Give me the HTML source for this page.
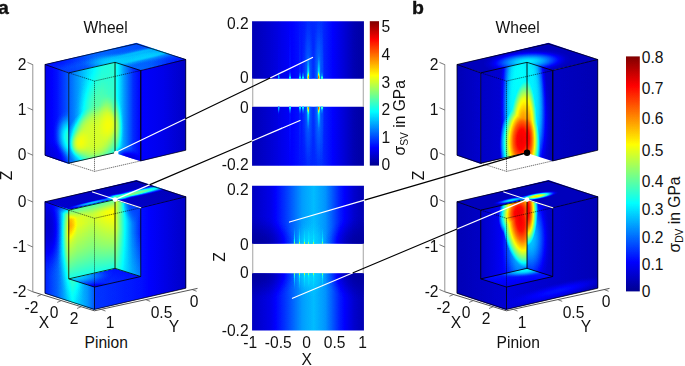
<!DOCTYPE html>
<html lang="en"><head><meta charset="utf-8"><title>Figure</title>
<style>html,body{margin:0;padding:0;background:#fff}svg{display:block}text{font-family:"Liberation Sans",Arial,Helvetica,sans-serif;fill:#111}</style>
</head><body>
<svg width="685" height="366" viewBox="0 0 685 366">
<defs>
<filter id="jet" filterUnits="userSpaceOnUse" x="0" y="0" width="685" height="366" color-interpolation-filters="sRGB">
<feComponentTransfer>
<feFuncR type="table" tableValues="0 0 0 0 0 0 0 .25 .5 .75 1 1 1 1 1 .75 .5"/>
<feFuncG type="table" tableValues="0 0 0 .25 .5 .75 1 1 1 1 1 .75 .5 .25 0 0 0"/>
<feFuncB type="table" tableValues=".5625 .78 1 1 1 1 1 .75 .5 .25 0 0 0 0 0 0 0"/>
</feComponentTransfer></filter>
<clipPath id="u"><rect x="-0.004" y="-0.004" width="1.008" height="1.008"/></clipPath>
<linearGradient id="l1" x1="0" y1="0" x2="1" y2="0"><stop offset="0" stop-color="#2e2e2e"/><stop offset="0.45" stop-color="#3b3b3b"/><stop offset="1" stop-color="#333333"/></linearGradient><radialGradient id="r2"><stop offset="0" stop-color="#525252" stop-opacity="1"/><stop offset="0.125" stop-color="#525252" stop-opacity="0.969"/><stop offset="0.25" stop-color="#525252" stop-opacity="0.879"/><stop offset="0.375" stop-color="#525252" stop-opacity="0.739"/><stop offset="0.5" stop-color="#525252" stop-opacity="0.562"/><stop offset="0.625" stop-color="#525252" stop-opacity="0.371"/><stop offset="0.75" stop-color="#525252" stop-opacity="0.191"/><stop offset="0.875" stop-color="#525252" stop-opacity="0.055"/><stop offset="1" stop-color="#525252" stop-opacity="0"/></radialGradient><radialGradient id="r3"><stop offset="0" stop-color="#545454" stop-opacity="1"/><stop offset="0.125" stop-color="#545454" stop-opacity="0.969"/><stop offset="0.25" stop-color="#545454" stop-opacity="0.879"/><stop offset="0.375" stop-color="#545454" stop-opacity="0.739"/><stop offset="0.5" stop-color="#545454" stop-opacity="0.562"/><stop offset="0.625" stop-color="#545454" stop-opacity="0.371"/><stop offset="0.75" stop-color="#545454" stop-opacity="0.191"/><stop offset="0.875" stop-color="#545454" stop-opacity="0.055"/><stop offset="1" stop-color="#545454" stop-opacity="0"/></radialGradient><radialGradient id="r4"><stop offset="0" stop-color="#4f4f4f" stop-opacity="1"/><stop offset="0.125" stop-color="#4f4f4f" stop-opacity="0.969"/><stop offset="0.25" stop-color="#4f4f4f" stop-opacity="0.879"/><stop offset="0.375" stop-color="#4f4f4f" stop-opacity="0.739"/><stop offset="0.5" stop-color="#4f4f4f" stop-opacity="0.562"/><stop offset="0.625" stop-color="#4f4f4f" stop-opacity="0.371"/><stop offset="0.75" stop-color="#4f4f4f" stop-opacity="0.191"/><stop offset="0.875" stop-color="#4f4f4f" stop-opacity="0.055"/><stop offset="1" stop-color="#4f4f4f" stop-opacity="0"/></radialGradient><radialGradient id="r5"><stop offset="0" stop-color="#242424" stop-opacity="1"/><stop offset="0.125" stop-color="#242424" stop-opacity="0.969"/><stop offset="0.25" stop-color="#242424" stop-opacity="0.879"/><stop offset="0.375" stop-color="#242424" stop-opacity="0.739"/><stop offset="0.5" stop-color="#242424" stop-opacity="0.562"/><stop offset="0.625" stop-color="#242424" stop-opacity="0.371"/><stop offset="0.75" stop-color="#242424" stop-opacity="0.191"/><stop offset="0.875" stop-color="#242424" stop-opacity="0.055"/><stop offset="1" stop-color="#242424" stop-opacity="0"/></radialGradient><radialGradient id="r6"><stop offset="0" stop-color="#262626" stop-opacity="1"/><stop offset="0.125" stop-color="#262626" stop-opacity="0.969"/><stop offset="0.25" stop-color="#262626" stop-opacity="0.879"/><stop offset="0.375" stop-color="#262626" stop-opacity="0.739"/><stop offset="0.5" stop-color="#262626" stop-opacity="0.562"/><stop offset="0.625" stop-color="#262626" stop-opacity="0.371"/><stop offset="0.75" stop-color="#262626" stop-opacity="0.191"/><stop offset="0.875" stop-color="#262626" stop-opacity="0.055"/><stop offset="1" stop-color="#262626" stop-opacity="0"/></radialGradient><linearGradient id="l7" x1="0" y1="0" x2="1" y2="0"><stop offset="0" stop-color="#1a1a1a"/><stop offset="0.5" stop-color="#242424"/><stop offset="1" stop-color="#383838"/></linearGradient><radialGradient id="r8"><stop offset="0" stop-color="#707070" stop-opacity="1"/><stop offset="0.125" stop-color="#707070" stop-opacity="0.969"/><stop offset="0.25" stop-color="#707070" stop-opacity="0.879"/><stop offset="0.375" stop-color="#707070" stop-opacity="0.739"/><stop offset="0.5" stop-color="#707070" stop-opacity="0.562"/><stop offset="0.625" stop-color="#707070" stop-opacity="0.371"/><stop offset="0.75" stop-color="#707070" stop-opacity="0.191"/><stop offset="0.875" stop-color="#707070" stop-opacity="0.055"/><stop offset="1" stop-color="#707070" stop-opacity="0"/></radialGradient><radialGradient id="r9"><stop offset="0" stop-color="#171717" stop-opacity="1"/><stop offset="0.125" stop-color="#171717" stop-opacity="0.969"/><stop offset="0.25" stop-color="#171717" stop-opacity="0.879"/><stop offset="0.375" stop-color="#171717" stop-opacity="0.739"/><stop offset="0.5" stop-color="#171717" stop-opacity="0.562"/><stop offset="0.625" stop-color="#171717" stop-opacity="0.371"/><stop offset="0.75" stop-color="#171717" stop-opacity="0.191"/><stop offset="0.875" stop-color="#171717" stop-opacity="0.055"/><stop offset="1" stop-color="#171717" stop-opacity="0"/></radialGradient><linearGradient id="l10" x1="0" y1="0" x2="1" y2="0"><stop offset="0" stop-color="#363636"/><stop offset="0.35" stop-color="#525252"/><stop offset="0.7" stop-color="#666666"/><stop offset="1" stop-color="#6b6b6b"/></linearGradient><radialGradient id="r11"><stop offset="0" stop-color="#787878" stop-opacity="1"/><stop offset="0.125" stop-color="#787878" stop-opacity="0.969"/><stop offset="0.25" stop-color="#787878" stop-opacity="0.879"/><stop offset="0.375" stop-color="#787878" stop-opacity="0.739"/><stop offset="0.5" stop-color="#787878" stop-opacity="0.562"/><stop offset="0.625" stop-color="#787878" stop-opacity="0.371"/><stop offset="0.75" stop-color="#787878" stop-opacity="0.191"/><stop offset="0.875" stop-color="#787878" stop-opacity="0.055"/><stop offset="1" stop-color="#787878" stop-opacity="0"/></radialGradient><radialGradient id="r12"><stop offset="0" stop-color="#959595" stop-opacity="1"/><stop offset="0.125" stop-color="#959595" stop-opacity="1"/><stop offset="0.25" stop-color="#959595" stop-opacity="0.992"/><stop offset="0.375" stop-color="#959595" stop-opacity="0.961"/><stop offset="0.5" stop-color="#959595" stop-opacity="0.879"/><stop offset="0.625" stop-color="#959595" stop-opacity="0.718"/><stop offset="0.75" stop-color="#959595" stop-opacity="0.467"/><stop offset="0.875" stop-color="#959595" stop-opacity="0.171"/><stop offset="1" stop-color="#959595" stop-opacity="0"/></radialGradient><radialGradient id="r13"><stop offset="0" stop-color="#959595" stop-opacity="1"/><stop offset="0.125" stop-color="#959595" stop-opacity="0.969"/><stop offset="0.25" stop-color="#959595" stop-opacity="0.879"/><stop offset="0.375" stop-color="#959595" stop-opacity="0.739"/><stop offset="0.5" stop-color="#959595" stop-opacity="0.562"/><stop offset="0.625" stop-color="#959595" stop-opacity="0.371"/><stop offset="0.75" stop-color="#959595" stop-opacity="0.191"/><stop offset="0.875" stop-color="#959595" stop-opacity="0.055"/><stop offset="1" stop-color="#959595" stop-opacity="0"/></radialGradient><radialGradient id="r14"><stop offset="0" stop-color="#9d9d9d" stop-opacity="1"/><stop offset="0.125" stop-color="#9d9d9d" stop-opacity="0.969"/><stop offset="0.25" stop-color="#9d9d9d" stop-opacity="0.879"/><stop offset="0.375" stop-color="#9d9d9d" stop-opacity="0.739"/><stop offset="0.5" stop-color="#9d9d9d" stop-opacity="0.562"/><stop offset="0.625" stop-color="#9d9d9d" stop-opacity="0.371"/><stop offset="0.75" stop-color="#9d9d9d" stop-opacity="0.191"/><stop offset="0.875" stop-color="#9d9d9d" stop-opacity="0.055"/><stop offset="1" stop-color="#9d9d9d" stop-opacity="0"/></radialGradient><linearGradient id="l15" x1="0" y1="0" x2="1" y2="0"><stop offset="0" stop-color="#6b6b6b"/><stop offset="0.35" stop-color="#474747"/><stop offset="0.7" stop-color="#2b2b2b"/><stop offset="1" stop-color="#1f1f1f"/></linearGradient><radialGradient id="r16"><stop offset="0" stop-color="#939393" stop-opacity="1"/><stop offset="0.125" stop-color="#939393" stop-opacity="0.969"/><stop offset="0.25" stop-color="#939393" stop-opacity="0.879"/><stop offset="0.375" stop-color="#939393" stop-opacity="0.739"/><stop offset="0.5" stop-color="#939393" stop-opacity="0.562"/><stop offset="0.625" stop-color="#939393" stop-opacity="0.371"/><stop offset="0.75" stop-color="#939393" stop-opacity="0.191"/><stop offset="0.875" stop-color="#939393" stop-opacity="0.055"/><stop offset="1" stop-color="#939393" stop-opacity="0"/></radialGradient><radialGradient id="r17"><stop offset="0" stop-color="#121212" stop-opacity="1"/><stop offset="0.125" stop-color="#121212" stop-opacity="0.969"/><stop offset="0.25" stop-color="#121212" stop-opacity="0.879"/><stop offset="0.375" stop-color="#121212" stop-opacity="0.739"/><stop offset="0.5" stop-color="#121212" stop-opacity="0.562"/><stop offset="0.625" stop-color="#121212" stop-opacity="0.371"/><stop offset="0.75" stop-color="#121212" stop-opacity="0.191"/><stop offset="0.875" stop-color="#121212" stop-opacity="0.055"/><stop offset="1" stop-color="#121212" stop-opacity="0"/></radialGradient><linearGradient id="l18" x1="0" y1="0" x2="1" y2="0"><stop offset="0" stop-color="#202020"/><stop offset="0.5" stop-color="#1a1a1a"/><stop offset="1" stop-color="#0f0f0f"/></linearGradient><linearGradient id="l19" x1="0" y1="0" x2="1" y2="0"><stop offset="0" stop-color="#121212"/><stop offset="1" stop-color="#0d0d0d"/></linearGradient><radialGradient id="r20"><stop offset="0" stop-color="#808080" stop-opacity="1"/><stop offset="0.125" stop-color="#808080" stop-opacity="0.969"/><stop offset="0.25" stop-color="#808080" stop-opacity="0.879"/><stop offset="0.375" stop-color="#808080" stop-opacity="0.739"/><stop offset="0.5" stop-color="#808080" stop-opacity="0.562"/><stop offset="0.625" stop-color="#808080" stop-opacity="0.371"/><stop offset="0.75" stop-color="#808080" stop-opacity="0.191"/><stop offset="0.875" stop-color="#808080" stop-opacity="0.055"/><stop offset="1" stop-color="#808080" stop-opacity="0"/></radialGradient><radialGradient id="r21"><stop offset="0" stop-color="#737373" stop-opacity="1"/><stop offset="0.125" stop-color="#737373" stop-opacity="0.969"/><stop offset="0.25" stop-color="#737373" stop-opacity="0.879"/><stop offset="0.375" stop-color="#737373" stop-opacity="0.739"/><stop offset="0.5" stop-color="#737373" stop-opacity="0.562"/><stop offset="0.625" stop-color="#737373" stop-opacity="0.371"/><stop offset="0.75" stop-color="#737373" stop-opacity="0.191"/><stop offset="0.875" stop-color="#737373" stop-opacity="0.055"/><stop offset="1" stop-color="#737373" stop-opacity="0"/></radialGradient><linearGradient id="l22" x1="0" y1="0" x2="1" y2="0"><stop offset="0" stop-color="#262626"/><stop offset="0.25" stop-color="#383838"/><stop offset="0.55" stop-color="#5c5c5c"/><stop offset="0.85" stop-color="#454545"/><stop offset="1" stop-color="#333333"/></linearGradient><radialGradient id="r23"><stop offset="0" stop-color="#9e9e9e" stop-opacity="1"/><stop offset="0.125" stop-color="#9e9e9e" stop-opacity="0.969"/><stop offset="0.25" stop-color="#9e9e9e" stop-opacity="0.879"/><stop offset="0.375" stop-color="#9e9e9e" stop-opacity="0.739"/><stop offset="0.5" stop-color="#9e9e9e" stop-opacity="0.562"/><stop offset="0.625" stop-color="#9e9e9e" stop-opacity="0.371"/><stop offset="0.75" stop-color="#9e9e9e" stop-opacity="0.191"/><stop offset="0.875" stop-color="#9e9e9e" stop-opacity="0.055"/><stop offset="1" stop-color="#9e9e9e" stop-opacity="0"/></radialGradient><radialGradient id="r24"><stop offset="0" stop-color="#b8b8b8" stop-opacity="1"/><stop offset="0.125" stop-color="#b8b8b8" stop-opacity="0.969"/><stop offset="0.25" stop-color="#b8b8b8" stop-opacity="0.879"/><stop offset="0.375" stop-color="#b8b8b8" stop-opacity="0.739"/><stop offset="0.5" stop-color="#b8b8b8" stop-opacity="0.562"/><stop offset="0.625" stop-color="#b8b8b8" stop-opacity="0.371"/><stop offset="0.75" stop-color="#b8b8b8" stop-opacity="0.191"/><stop offset="0.875" stop-color="#b8b8b8" stop-opacity="0.055"/><stop offset="1" stop-color="#b8b8b8" stop-opacity="0"/></radialGradient><radialGradient id="r25"><stop offset="0" stop-color="#131313" stop-opacity="1"/><stop offset="0.125" stop-color="#131313" stop-opacity="0.969"/><stop offset="0.25" stop-color="#131313" stop-opacity="0.879"/><stop offset="0.375" stop-color="#131313" stop-opacity="0.739"/><stop offset="0.5" stop-color="#131313" stop-opacity="0.562"/><stop offset="0.625" stop-color="#131313" stop-opacity="0.371"/><stop offset="0.75" stop-color="#131313" stop-opacity="0.191"/><stop offset="0.875" stop-color="#131313" stop-opacity="0.055"/><stop offset="1" stop-color="#131313" stop-opacity="0"/></radialGradient><linearGradient id="l26" x1="0" y1="0" x2="0" y2="1"><stop offset="0" stop-color="#1f1f1f" stop-opacity="0.7"/><stop offset="0.08" stop-color="#1f1f1f" stop-opacity="0"/></linearGradient><linearGradient id="l27" x1="0" y1="0" x2="1" y2="0"><stop offset="0" stop-color="#2e2e2e"/><stop offset="0.5" stop-color="#242424"/><stop offset="1" stop-color="#0f0f0f"/></linearGradient><linearGradient id="l28" x1="0" y1="0" x2="1" y2="0"><stop offset="0" stop-color="#2e2e2e"/><stop offset="1" stop-color="#242424"/></linearGradient><radialGradient id="r29"><stop offset="0" stop-color="#1a1a1a" stop-opacity="1"/><stop offset="0.125" stop-color="#1a1a1a" stop-opacity="0.969"/><stop offset="0.25" stop-color="#1a1a1a" stop-opacity="0.879"/><stop offset="0.375" stop-color="#1a1a1a" stop-opacity="0.739"/><stop offset="0.5" stop-color="#1a1a1a" stop-opacity="0.562"/><stop offset="0.625" stop-color="#1a1a1a" stop-opacity="0.371"/><stop offset="0.75" stop-color="#1a1a1a" stop-opacity="0.191"/><stop offset="0.875" stop-color="#1a1a1a" stop-opacity="0.055"/><stop offset="1" stop-color="#1a1a1a" stop-opacity="0"/></radialGradient><linearGradient id="l30" x1="0" y1="0" x2="1" y2="0"><stop offset="0" stop-color="#a8a8a8"/><stop offset="0.2" stop-color="#999999"/><stop offset="0.5" stop-color="#919191"/><stop offset="0.8" stop-color="#9c9c9c"/><stop offset="1" stop-color="#a1a1a1"/></linearGradient><radialGradient id="r31"><stop offset="0" stop-color="#b5b5b5" stop-opacity="1"/><stop offset="0.125" stop-color="#b5b5b5" stop-opacity="0.969"/><stop offset="0.25" stop-color="#b5b5b5" stop-opacity="0.879"/><stop offset="0.375" stop-color="#b5b5b5" stop-opacity="0.739"/><stop offset="0.5" stop-color="#b5b5b5" stop-opacity="0.562"/><stop offset="0.625" stop-color="#b5b5b5" stop-opacity="0.371"/><stop offset="0.75" stop-color="#b5b5b5" stop-opacity="0.191"/><stop offset="0.875" stop-color="#b5b5b5" stop-opacity="0.055"/><stop offset="1" stop-color="#b5b5b5" stop-opacity="0"/></radialGradient><linearGradient id="l32" x1="0" y1="0" x2="0" y2="1"><stop offset="0" stop-color="#707070" stop-opacity="0"/><stop offset="0.25" stop-color="#707070" stop-opacity="0"/><stop offset="0.6" stop-color="#707070" stop-opacity="0.5"/><stop offset="1" stop-color="#636363"/></linearGradient><linearGradient id="l33" x1="0" y1="0" x2="0" y2="1"><stop offset="0" stop-color="#6b6b6b" stop-opacity="0.9"/><stop offset="0.07" stop-color="#737373" stop-opacity="0.6"/><stop offset="0.16" stop-color="#808080" stop-opacity="0"/></linearGradient><linearGradient id="l34" x1="0" y1="0" x2="1" y2="0"><stop offset="0" stop-color="#9e9e9e"/><stop offset="0.15" stop-color="#858585"/><stop offset="0.38" stop-color="#616161"/><stop offset="0.65" stop-color="#424242"/><stop offset="1" stop-color="#262626"/></linearGradient><linearGradient id="l35" x1="0" y1="0" x2="0" y2="1"><stop offset="0" stop-color="#525252" stop-opacity="0"/><stop offset="0.4" stop-color="#525252" stop-opacity="0"/><stop offset="1" stop-color="#525252" stop-opacity="0.6"/></linearGradient><radialGradient id="r36"><stop offset="0" stop-color="#303030" stop-opacity="1"/><stop offset="0.125" stop-color="#303030" stop-opacity="0.969"/><stop offset="0.25" stop-color="#303030" stop-opacity="0.879"/><stop offset="0.375" stop-color="#303030" stop-opacity="0.739"/><stop offset="0.5" stop-color="#303030" stop-opacity="0.562"/><stop offset="0.625" stop-color="#303030" stop-opacity="0.371"/><stop offset="0.75" stop-color="#303030" stop-opacity="0.191"/><stop offset="0.875" stop-color="#303030" stop-opacity="0.055"/><stop offset="1" stop-color="#303030" stop-opacity="0"/></radialGradient><radialGradient id="r37"><stop offset="0" stop-color="#5c5c5c" stop-opacity="1"/><stop offset="0.125" stop-color="#5c5c5c" stop-opacity="0.969"/><stop offset="0.25" stop-color="#5c5c5c" stop-opacity="0.879"/><stop offset="0.375" stop-color="#5c5c5c" stop-opacity="0.739"/><stop offset="0.5" stop-color="#5c5c5c" stop-opacity="0.562"/><stop offset="0.625" stop-color="#5c5c5c" stop-opacity="0.371"/><stop offset="0.75" stop-color="#5c5c5c" stop-opacity="0.191"/><stop offset="0.875" stop-color="#5c5c5c" stop-opacity="0.055"/><stop offset="1" stop-color="#5c5c5c" stop-opacity="0"/></radialGradient><linearGradient id="l38" x1="0" y1="0" x2="1" y2="0"><stop offset="0" stop-color="#0b0b0b"/><stop offset="1" stop-color="#121212"/></linearGradient><linearGradient id="l39" x1="0" y1="0" x2="1" y2="0"><stop offset="0" stop-color="#0f0f0f"/><stop offset="0.5" stop-color="#141414"/><stop offset="1" stop-color="#1a1a1a"/></linearGradient><radialGradient id="r40"><stop offset="0" stop-color="#616161" stop-opacity="1"/><stop offset="0.125" stop-color="#616161" stop-opacity="1"/><stop offset="0.25" stop-color="#616161" stop-opacity="0.992"/><stop offset="0.375" stop-color="#616161" stop-opacity="0.961"/><stop offset="0.5" stop-color="#616161" stop-opacity="0.879"/><stop offset="0.625" stop-color="#616161" stop-opacity="0.718"/><stop offset="0.75" stop-color="#616161" stop-opacity="0.467"/><stop offset="0.875" stop-color="#616161" stop-opacity="0.171"/><stop offset="1" stop-color="#616161" stop-opacity="0"/></radialGradient><radialGradient id="r41"><stop offset="0" stop-color="#5e5e5e" stop-opacity="1"/><stop offset="0.125" stop-color="#5e5e5e" stop-opacity="0.969"/><stop offset="0.25" stop-color="#5e5e5e" stop-opacity="0.879"/><stop offset="0.375" stop-color="#5e5e5e" stop-opacity="0.739"/><stop offset="0.5" stop-color="#5e5e5e" stop-opacity="0.562"/><stop offset="0.625" stop-color="#5e5e5e" stop-opacity="0.371"/><stop offset="0.75" stop-color="#5e5e5e" stop-opacity="0.191"/><stop offset="0.875" stop-color="#5e5e5e" stop-opacity="0.055"/><stop offset="1" stop-color="#5e5e5e" stop-opacity="0"/></radialGradient><radialGradient id="q42"><stop offset="0" stop-color="#e3e3e3"/><stop offset="0.2" stop-color="#dedede"/><stop offset="0.36" stop-color="#c7c7c7"/><stop offset="0.52" stop-color="#a3a3a3"/><stop offset="0.68" stop-color="#757575"/><stop offset="0.84" stop-color="#424242"/><stop offset="1" stop-color="#000000"/></radialGradient><radialGradient id="q43"><stop offset="0" stop-color="#c7c7c7"/><stop offset="0.25" stop-color="#b2b2b2"/><stop offset="0.47" stop-color="#999999"/><stop offset="0.65" stop-color="#707070"/><stop offset="0.82" stop-color="#474747"/><stop offset="1" stop-color="#000000"/></radialGradient><linearGradient id="l44" x1="0" y1="0" x2="1" y2="0"><stop offset="0" stop-color="#1a1a1a"/><stop offset="1" stop-color="#0d0d0d"/></linearGradient><radialGradient id="r45"><stop offset="0" stop-color="#5e5e5e" stop-opacity="1"/><stop offset="0.125" stop-color="#5e5e5e" stop-opacity="1"/><stop offset="0.25" stop-color="#5e5e5e" stop-opacity="0.992"/><stop offset="0.375" stop-color="#5e5e5e" stop-opacity="0.961"/><stop offset="0.5" stop-color="#5e5e5e" stop-opacity="0.879"/><stop offset="0.625" stop-color="#5e5e5e" stop-opacity="0.718"/><stop offset="0.75" stop-color="#5e5e5e" stop-opacity="0.467"/><stop offset="0.875" stop-color="#5e5e5e" stop-opacity="0.171"/><stop offset="1" stop-color="#5e5e5e" stop-opacity="0"/></radialGradient><linearGradient id="l46" x1="0" y1="0" x2="1" y2="0"><stop offset="0" stop-color="#0f0f0f"/><stop offset="1" stop-color="#0a0a0a"/></linearGradient><radialGradient id="r47"><stop offset="0" stop-color="#a8a8a8" stop-opacity="1"/><stop offset="0.125" stop-color="#a8a8a8" stop-opacity="0.969"/><stop offset="0.25" stop-color="#a8a8a8" stop-opacity="0.879"/><stop offset="0.375" stop-color="#a8a8a8" stop-opacity="0.739"/><stop offset="0.5" stop-color="#a8a8a8" stop-opacity="0.562"/><stop offset="0.625" stop-color="#a8a8a8" stop-opacity="0.371"/><stop offset="0.75" stop-color="#a8a8a8" stop-opacity="0.191"/><stop offset="0.875" stop-color="#a8a8a8" stop-opacity="0.055"/><stop offset="1" stop-color="#a8a8a8" stop-opacity="0"/></radialGradient><linearGradient id="l48" x1="0" y1="0" x2="1" y2="0"><stop offset="0" stop-color="#0b0b0b"/><stop offset="1" stop-color="#141414"/></linearGradient><linearGradient id="l49" x1="0" y1="0" x2="1" y2="0"><stop offset="0" stop-color="#171717"/><stop offset="1" stop-color="#0b0b0b"/></linearGradient><linearGradient id="l50" x1="0" y1="0" x2="1" y2="1"><stop offset="0" stop-color="#1a1a1a"/><stop offset="1" stop-color="#2b2b2b"/></linearGradient><linearGradient id="l51" x1="0" y1="0" x2="1" y2="0"><stop offset="0" stop-color="#0f0f0f"/><stop offset="0.5" stop-color="#1f1f1f"/><stop offset="1" stop-color="#242424"/></linearGradient><radialGradient id="q52"><stop offset="0" stop-color="#e3e3e3"/><stop offset="0.22" stop-color="#dbdbdb"/><stop offset="0.4" stop-color="#c2c2c2"/><stop offset="0.58" stop-color="#a1a1a1"/><stop offset="0.76" stop-color="#757575"/><stop offset="0.9" stop-color="#474747"/><stop offset="1" stop-color="#000000"/></radialGradient><linearGradient id="l53" x1="0" y1="0" x2="1" y2="0"><stop offset="0" stop-color="#212121"/><stop offset="1" stop-color="#0f0f0f"/></linearGradient><linearGradient id="l54" x1="0" y1="0" x2="1" y2="0"><stop offset="0" stop-color="#0a0a0a"/><stop offset="0.15" stop-color="#121212"/><stop offset="0.35" stop-color="#1f1f1f"/><stop offset="0.5" stop-color="#292929"/><stop offset="0.62" stop-color="#2b2b2b"/><stop offset="0.75" stop-color="#1c1c1c"/><stop offset="0.9" stop-color="#0a0a0a"/><stop offset="1" stop-color="#040404"/></linearGradient><radialGradient id="r55"><stop offset="0" stop-color="#292929" stop-opacity="1"/><stop offset="0.125" stop-color="#292929" stop-opacity="0.969"/><stop offset="0.25" stop-color="#292929" stop-opacity="0.879"/><stop offset="0.375" stop-color="#292929" stop-opacity="0.739"/><stop offset="0.5" stop-color="#292929" stop-opacity="0.562"/><stop offset="0.625" stop-color="#292929" stop-opacity="0.371"/><stop offset="0.75" stop-color="#292929" stop-opacity="0.191"/><stop offset="0.875" stop-color="#292929" stop-opacity="0.055"/><stop offset="1" stop-color="#292929" stop-opacity="0"/></radialGradient><radialGradient id="r56"><stop offset="0" stop-color="#383838" stop-opacity="1"/><stop offset="0.125" stop-color="#383838" stop-opacity="0.969"/><stop offset="0.25" stop-color="#383838" stop-opacity="0.879"/><stop offset="0.375" stop-color="#383838" stop-opacity="0.739"/><stop offset="0.5" stop-color="#383838" stop-opacity="0.562"/><stop offset="0.625" stop-color="#383838" stop-opacity="0.371"/><stop offset="0.75" stop-color="#383838" stop-opacity="0.191"/><stop offset="0.875" stop-color="#383838" stop-opacity="0.055"/><stop offset="1" stop-color="#383838" stop-opacity="0"/></radialGradient><radialGradient id="r57"><stop offset="0" stop-color="#3c3c3c" stop-opacity="1"/><stop offset="0.125" stop-color="#3c3c3c" stop-opacity="0.969"/><stop offset="0.25" stop-color="#3c3c3c" stop-opacity="0.879"/><stop offset="0.375" stop-color="#3c3c3c" stop-opacity="0.739"/><stop offset="0.5" stop-color="#3c3c3c" stop-opacity="0.562"/><stop offset="0.625" stop-color="#3c3c3c" stop-opacity="0.371"/><stop offset="0.75" stop-color="#3c3c3c" stop-opacity="0.191"/><stop offset="0.875" stop-color="#3c3c3c" stop-opacity="0.055"/><stop offset="1" stop-color="#3c3c3c" stop-opacity="0"/></radialGradient><radialGradient id="r58"><stop offset="0" stop-color="#333333" stop-opacity="1"/><stop offset="0.125" stop-color="#333333" stop-opacity="0.969"/><stop offset="0.25" stop-color="#333333" stop-opacity="0.879"/><stop offset="0.375" stop-color="#333333" stop-opacity="0.739"/><stop offset="0.5" stop-color="#333333" stop-opacity="0.562"/><stop offset="0.625" stop-color="#333333" stop-opacity="0.371"/><stop offset="0.75" stop-color="#333333" stop-opacity="0.191"/><stop offset="0.875" stop-color="#333333" stop-opacity="0.055"/><stop offset="1" stop-color="#333333" stop-opacity="0"/></radialGradient><radialGradient id="r59"><stop offset="0" stop-color="#4c4c4c" stop-opacity="1"/><stop offset="0.125" stop-color="#4c4c4c" stop-opacity="0.969"/><stop offset="0.25" stop-color="#4c4c4c" stop-opacity="0.879"/><stop offset="0.375" stop-color="#4c4c4c" stop-opacity="0.739"/><stop offset="0.5" stop-color="#4c4c4c" stop-opacity="0.562"/><stop offset="0.625" stop-color="#4c4c4c" stop-opacity="0.371"/><stop offset="0.75" stop-color="#4c4c4c" stop-opacity="0.191"/><stop offset="0.875" stop-color="#4c4c4c" stop-opacity="0.055"/><stop offset="1" stop-color="#4c4c4c" stop-opacity="0"/></radialGradient><radialGradient id="r60"><stop offset="0" stop-color="#6b6b6b" stop-opacity="1"/><stop offset="0.125" stop-color="#6b6b6b" stop-opacity="0.969"/><stop offset="0.25" stop-color="#6b6b6b" stop-opacity="0.879"/><stop offset="0.375" stop-color="#6b6b6b" stop-opacity="0.739"/><stop offset="0.5" stop-color="#6b6b6b" stop-opacity="0.562"/><stop offset="0.625" stop-color="#6b6b6b" stop-opacity="0.371"/><stop offset="0.75" stop-color="#6b6b6b" stop-opacity="0.191"/><stop offset="0.875" stop-color="#6b6b6b" stop-opacity="0.055"/><stop offset="1" stop-color="#6b6b6b" stop-opacity="0"/></radialGradient><radialGradient id="r61"><stop offset="0" stop-color="#c7c7c7" stop-opacity="1"/><stop offset="0.125" stop-color="#c7c7c7" stop-opacity="0.969"/><stop offset="0.25" stop-color="#c7c7c7" stop-opacity="0.879"/><stop offset="0.375" stop-color="#c7c7c7" stop-opacity="0.739"/><stop offset="0.5" stop-color="#c7c7c7" stop-opacity="0.562"/><stop offset="0.625" stop-color="#c7c7c7" stop-opacity="0.371"/><stop offset="0.75" stop-color="#c7c7c7" stop-opacity="0.191"/><stop offset="0.875" stop-color="#c7c7c7" stop-opacity="0.055"/><stop offset="1" stop-color="#c7c7c7" stop-opacity="0"/></radialGradient><radialGradient id="r62"><stop offset="0" stop-color="#dbdbdb" stop-opacity="1"/><stop offset="0.125" stop-color="#dbdbdb" stop-opacity="0.969"/><stop offset="0.25" stop-color="#dbdbdb" stop-opacity="0.879"/><stop offset="0.375" stop-color="#dbdbdb" stop-opacity="0.739"/><stop offset="0.5" stop-color="#dbdbdb" stop-opacity="0.562"/><stop offset="0.625" stop-color="#dbdbdb" stop-opacity="0.371"/><stop offset="0.75" stop-color="#dbdbdb" stop-opacity="0.191"/><stop offset="0.875" stop-color="#dbdbdb" stop-opacity="0.055"/><stop offset="1" stop-color="#dbdbdb" stop-opacity="0"/></radialGradient><radialGradient id="r63"><stop offset="0" stop-color="#8c8c8c" stop-opacity="1"/><stop offset="0.125" stop-color="#8c8c8c" stop-opacity="0.969"/><stop offset="0.25" stop-color="#8c8c8c" stop-opacity="0.879"/><stop offset="0.375" stop-color="#8c8c8c" stop-opacity="0.739"/><stop offset="0.5" stop-color="#8c8c8c" stop-opacity="0.562"/><stop offset="0.625" stop-color="#8c8c8c" stop-opacity="0.371"/><stop offset="0.75" stop-color="#8c8c8c" stop-opacity="0.191"/><stop offset="0.875" stop-color="#8c8c8c" stop-opacity="0.055"/><stop offset="1" stop-color="#8c8c8c" stop-opacity="0"/></radialGradient><linearGradient id="l64" x1="0" y1="0" x2="1" y2="0"><stop offset="0" stop-color="#0d0d0d"/><stop offset="0.18" stop-color="#1a1a1a"/><stop offset="0.32" stop-color="#303030"/><stop offset="0.45" stop-color="#474747"/><stop offset="0.55" stop-color="#4f4f4f"/><stop offset="0.65" stop-color="#454545"/><stop offset="0.78" stop-color="#262626"/><stop offset="0.9" stop-color="#121212"/><stop offset="1" stop-color="#080808"/></linearGradient><radialGradient id="r65"><stop offset="0" stop-color="#050505" stop-opacity="1"/><stop offset="0.125" stop-color="#050505" stop-opacity="0.969"/><stop offset="0.25" stop-color="#050505" stop-opacity="0.879"/><stop offset="0.375" stop-color="#050505" stop-opacity="0.739"/><stop offset="0.5" stop-color="#050505" stop-opacity="0.562"/><stop offset="0.625" stop-color="#050505" stop-opacity="0.371"/><stop offset="0.75" stop-color="#050505" stop-opacity="0.191"/><stop offset="0.875" stop-color="#050505" stop-opacity="0.055"/><stop offset="1" stop-color="#050505" stop-opacity="0"/></radialGradient><radialGradient id="r66"><stop offset="0" stop-color="#595959" stop-opacity="1"/><stop offset="0.125" stop-color="#595959" stop-opacity="0.969"/><stop offset="0.25" stop-color="#595959" stop-opacity="0.879"/><stop offset="0.375" stop-color="#595959" stop-opacity="0.739"/><stop offset="0.5" stop-color="#595959" stop-opacity="0.562"/><stop offset="0.625" stop-color="#595959" stop-opacity="0.371"/><stop offset="0.75" stop-color="#595959" stop-opacity="0.191"/><stop offset="0.875" stop-color="#595959" stop-opacity="0.055"/><stop offset="1" stop-color="#595959" stop-opacity="0"/></radialGradient><radialGradient id="r67"><stop offset="0" stop-color="#666666" stop-opacity="1"/><stop offset="0.125" stop-color="#666666" stop-opacity="0.969"/><stop offset="0.25" stop-color="#666666" stop-opacity="0.879"/><stop offset="0.375" stop-color="#666666" stop-opacity="0.739"/><stop offset="0.5" stop-color="#666666" stop-opacity="0.562"/><stop offset="0.625" stop-color="#666666" stop-opacity="0.371"/><stop offset="0.75" stop-color="#666666" stop-opacity="0.191"/><stop offset="0.875" stop-color="#666666" stop-opacity="0.055"/><stop offset="1" stop-color="#666666" stop-opacity="0"/></radialGradient><radialGradient id="r68"><stop offset="0" stop-color="#878787" stop-opacity="1"/><stop offset="0.125" stop-color="#878787" stop-opacity="0.969"/><stop offset="0.25" stop-color="#878787" stop-opacity="0.879"/><stop offset="0.375" stop-color="#878787" stop-opacity="0.739"/><stop offset="0.5" stop-color="#878787" stop-opacity="0.562"/><stop offset="0.625" stop-color="#878787" stop-opacity="0.371"/><stop offset="0.75" stop-color="#878787" stop-opacity="0.191"/><stop offset="0.875" stop-color="#878787" stop-opacity="0.055"/><stop offset="1" stop-color="#878787" stop-opacity="0"/></radialGradient><radialGradient id="r69"><stop offset="0" stop-color="#949494" stop-opacity="1"/><stop offset="0.125" stop-color="#949494" stop-opacity="0.969"/><stop offset="0.25" stop-color="#949494" stop-opacity="0.879"/><stop offset="0.375" stop-color="#949494" stop-opacity="0.739"/><stop offset="0.5" stop-color="#949494" stop-opacity="0.562"/><stop offset="0.625" stop-color="#949494" stop-opacity="0.371"/><stop offset="0.75" stop-color="#949494" stop-opacity="0.191"/><stop offset="0.875" stop-color="#949494" stop-opacity="0.055"/><stop offset="1" stop-color="#949494" stop-opacity="0"/></radialGradient><radialGradient id="r70"><stop offset="0" stop-color="#a1a1a1" stop-opacity="1"/><stop offset="0.125" stop-color="#a1a1a1" stop-opacity="0.969"/><stop offset="0.25" stop-color="#a1a1a1" stop-opacity="0.879"/><stop offset="0.375" stop-color="#a1a1a1" stop-opacity="0.739"/><stop offset="0.5" stop-color="#a1a1a1" stop-opacity="0.562"/><stop offset="0.625" stop-color="#a1a1a1" stop-opacity="0.371"/><stop offset="0.75" stop-color="#a1a1a1" stop-opacity="0.191"/><stop offset="0.875" stop-color="#a1a1a1" stop-opacity="0.055"/><stop offset="1" stop-color="#a1a1a1" stop-opacity="0"/></radialGradient><radialGradient id="r71"><stop offset="0" stop-color="#b2b2b2" stop-opacity="1"/><stop offset="0.125" stop-color="#b2b2b2" stop-opacity="0.969"/><stop offset="0.25" stop-color="#b2b2b2" stop-opacity="0.879"/><stop offset="0.375" stop-color="#b2b2b2" stop-opacity="0.739"/><stop offset="0.5" stop-color="#b2b2b2" stop-opacity="0.562"/><stop offset="0.625" stop-color="#b2b2b2" stop-opacity="0.371"/><stop offset="0.75" stop-color="#b2b2b2" stop-opacity="0.191"/><stop offset="0.875" stop-color="#b2b2b2" stop-opacity="0.055"/><stop offset="1" stop-color="#b2b2b2" stop-opacity="0"/></radialGradient><radialGradient id="r72"><stop offset="0" stop-color="#bdbdbd" stop-opacity="1"/><stop offset="0.125" stop-color="#bdbdbd" stop-opacity="0.969"/><stop offset="0.25" stop-color="#bdbdbd" stop-opacity="0.879"/><stop offset="0.375" stop-color="#bdbdbd" stop-opacity="0.739"/><stop offset="0.5" stop-color="#bdbdbd" stop-opacity="0.562"/><stop offset="0.625" stop-color="#bdbdbd" stop-opacity="0.371"/><stop offset="0.75" stop-color="#bdbdbd" stop-opacity="0.191"/><stop offset="0.875" stop-color="#bdbdbd" stop-opacity="0.055"/><stop offset="1" stop-color="#bdbdbd" stop-opacity="0"/></radialGradient><linearGradient id="l73" x1="0" y1="0" x2="0" y2="1"><stop offset="0" stop-color="#ffffff"/><stop offset="1" stop-color="#000000"/></linearGradient>
</defs>
<g filter="url(#jet)">
<g transform="matrix(91.25 -21.55 -49.5 -16.55 94.5 81.05)" clip-path="url(#u)"><rect x="-0.02" y="-0.02" width="1.04" height="1.04" fill="url(#l1)"/><ellipse cx="0.8" cy="0.5" rx="0.6" ry="0.32" fill="url(#r2)"/><ellipse cx="0.5" cy="0.55" rx="0.3" ry="0.35" fill="url(#r3)"/><ellipse cx="0.75" cy="0.42" rx="0.5" ry="0.1" fill="url(#r3)"/><ellipse cx="0.8" cy="0.64" rx="0.45" ry="0.09" fill="url(#r4)"/><ellipse cx="0" cy="1" rx="0.6" ry="0.35" fill="url(#r5)"/><ellipse cx="1" cy="0" rx="0.4" ry="0.3" fill="url(#r6)"/></g>
<g transform="matrix(23.76 8.36 0 90.75 45 64.5)" clip-path="url(#u)"><rect x="-0.02" y="-0.02" width="1.04" height="1.04" fill="url(#l7)"/><ellipse cx="1.1" cy="0.72" rx="0.75" ry="0.3" fill="url(#r8)"/><ellipse cx="0.2" cy="1" rx="1" ry="0.22" fill="url(#r9)"/></g>
<g transform="matrix(44.986 -11.03 0 90.35 140.764 70.53)" clip-path="url(#u)"><rect x="-0.02" y="-0.02" width="1.04" height="1.04" fill="url(#l18)"/></g>
<g transform="matrix(46.264 -10.52 0 90.35 68.76 72.86)" clip-path="url(#u)"><rect x="-0.02" y="-0.02" width="1.04" height="1.04" fill="url(#l10)"/><ellipse cx="0.62" cy="0.55" rx="0.5" ry="0.6" fill="url(#r11)"/><ellipse cx="0.55" cy="0.76" rx="0.62" ry="0.33" fill="url(#r12)"/><ellipse cx="0.82" cy="0.62" rx="0.25" ry="0.3" fill="url(#r13)"/><ellipse cx="0.85" cy="0.68" rx="0.25" ry="0.18" fill="url(#r14)"/><ellipse cx="0.25" cy="0.8" rx="0.25" ry="0.16" fill="url(#r14)"/></g>
<g transform="matrix(25.74 8.19 0 90.35 115.024 62.34)" clip-path="url(#u)"><rect x="-0.02" y="-0.02" width="1.04" height="1.04" fill="url(#l15)"/><ellipse cx="-0.05" cy="0.7" rx="0.4" ry="0.36" fill="url(#r16)"/><ellipse cx="0.55" cy="1.02" rx="0.7" ry="0.13" fill="url(#r17)"/></g>
<g transform="matrix(91.25 -21.55 -49.5 -16.55 94.5 218.3)" clip-path="url(#u)"><rect x="-0.02" y="-0.02" width="1.04" height="1.04" fill="url(#l19)"/><ellipse cx="0.8" cy="0.55" rx="0.5" ry="0.16" fill="url(#r8)"/><ellipse cx="0.7" cy="0.55" rx="0.3" ry="0.1" fill="url(#r20)"/><ellipse cx="0.56" cy="0.55" rx="0.12" ry="0.16" fill="url(#r21)"/><ellipse cx="0.28" cy="0.57" rx="0.3" ry="0.08" fill="url(#r3)"/></g>
<g transform="matrix(49.5 16.55 0 91.5 45 201.75)" clip-path="url(#u)"><rect x="-0.02" y="-0.02" width="1.04" height="1.04" fill="url(#l22)"/><ellipse cx="0.55" cy="0.3" rx="0.32" ry="0.8" fill="url(#r20)"/><ellipse cx="0.54" cy="0.25" rx="0.2" ry="0.55" fill="url(#r23)"/><ellipse cx="0.53" cy="0.22" rx="0.1" ry="0.2" fill="url(#r24)"/><ellipse cx="0.08" cy="0.25" rx="0.3" ry="0.55" fill="url(#r25)"/><rect x="-0.02" y="-0.02" width="1.04" height="1.04" fill="url(#l26)"/></g>
<g transform="matrix(91.25 -21.55 0 91.1 94.5 218.3)" clip-path="url(#u)"><rect x="-0.02" y="-0.02" width="1.04" height="1.04" fill="url(#l27)"/></g>
<g transform="matrix(46.264 -10.52 -25.74 -8.19 94.5 287.05)" clip-path="url(#u)"><rect x="-0.02" y="-0.02" width="1.04" height="1.04" fill="url(#l28)"/><ellipse cx="0.1" cy="1" rx="0.75" ry="0.75" fill="url(#r3)"/><ellipse cx="0" cy="0" rx="0.4" ry="0.4" fill="url(#r29)"/></g>
<g transform="matrix(46.264 -10.52 0 68.75 68.76 210.11)" clip-path="url(#u)"><rect x="-0.02" y="-0.02" width="1.04" height="1.04" fill="url(#l30)"/><ellipse cx="0" cy="0.25" rx="0.2" ry="0.26" fill="url(#r31)"/><rect x="-0.02" y="-0.02" width="1.04" height="1.04" fill="url(#l32)"/><rect x="-0.02" y="-0.02" width="1.04" height="1.04" fill="url(#l33)"/></g>
<g transform="matrix(25.74 8.19 0 68.75 115.024 199.59)" clip-path="url(#u)"><rect x="-0.02" y="-0.02" width="1.04" height="1.04" fill="url(#l34)"/><rect x="-0.02" y="-0.02" width="1.04" height="1.04" fill="url(#l35)"/><ellipse cx="0.7" cy="0" rx="0.5" ry="0.3" fill="url(#r36)"/></g>
<g transform="matrix(91.25 -21.55 -49.5 -16.55 506.5 81.05)" clip-path="url(#u)"><rect x="-0.02" y="-0.02" width="1.04" height="1.04" fill="#0d0d0d"/><ellipse cx="0.507" cy="0.52" rx="0.4" ry="0.5" fill="url(#r37)"/></g>
<g transform="matrix(23.76 8.36 0 90.75 457 64.5)" clip-path="url(#u)"><rect x="-0.02" y="-0.02" width="1.04" height="1.04" fill="url(#l38)"/></g>
<g transform="matrix(44.986 -11.03 0 90.35 552.764 70.53)" clip-path="url(#u)"><rect x="-0.02" y="-0.02" width="1.04" height="1.04" fill="url(#l46)"/></g>
<g transform="matrix(46.264 -10.52 0 90.35 480.76 72.86)" clip-path="url(#u)"><rect x="-0.02" y="-0.02" width="1.04" height="1.04" fill="url(#l39)"/><ellipse cx="0.84" cy="0.35" rx="0.42" ry="1" fill="url(#r40)"/><ellipse cx="0.85" cy="0.6" rx="0.42" ry="0.7" fill="url(#r41)"/><ellipse cx="0.88" cy="0.84" rx="0.5" ry="0.56" fill="url(#q42)" style="mix-blend-mode:lighten"/><ellipse cx="0.9" cy="0.72" rx="0.38" ry="0.72" fill="url(#q43)" transform="rotate(8 0.9 0.72)" style="mix-blend-mode:lighten"/></g>
<g transform="matrix(25.74 8.19 0 90.35 527.024 62.34)" clip-path="url(#u)"><rect x="-0.02" y="-0.02" width="1.04" height="1.04" fill="url(#l44)"/><ellipse cx="0" cy="0.35" rx="0.75" ry="1" fill="url(#r45)"/><ellipse cx="0" cy="0.6" rx="0.95" ry="0.8" fill="url(#r37)"/><ellipse cx="-0.04" cy="0.84" rx="0.64" ry="0.56" fill="url(#q42)" style="mix-blend-mode:lighten"/><ellipse cx="0" cy="0.72" rx="0.52" ry="0.72" fill="url(#q43)" style="mix-blend-mode:lighten"/></g>
<g transform="matrix(91.25 -21.55 -49.5 -16.55 506.5 218.3)" clip-path="url(#u)"><rect x="-0.02" y="-0.02" width="1.04" height="1.04" fill="#0d0d0d"/><ellipse cx="0.62" cy="0.53" rx="0.22" ry="0.14" fill="url(#r47)"/><ellipse cx="0.38" cy="0.6" rx="0.2" ry="0.1" fill="url(#r37)"/></g>
<g transform="matrix(49.5 16.55 0 91.5 457 201.75)" clip-path="url(#u)"><rect x="-0.02" y="-0.02" width="1.04" height="1.04" fill="url(#l48)"/></g>
<g transform="matrix(91.25 -21.55 0 91.1 506.5 218.3)" clip-path="url(#u)"><rect x="-0.02" y="-0.02" width="1.04" height="1.04" fill="url(#l49)"/><ellipse cx="0.55" cy="0.93" rx="0.6" ry="0.09" fill="url(#r5)"/></g>
<g transform="matrix(46.264 -10.52 -25.74 -8.19 506.5 287.05)" clip-path="url(#u)"><rect x="-0.02" y="-0.02" width="1.04" height="1.04" fill="url(#l50)"/><ellipse cx="0.9" cy="0.9" rx="0.55" ry="0.55" fill="url(#r41)"/></g>
<g transform="matrix(46.264 -10.52 0 68.75 480.76 210.11)" clip-path="url(#u)"><rect x="-0.02" y="-0.02" width="1.04" height="1.04" fill="url(#l51)"/><ellipse cx="0.86" cy="0.5" rx="0.44" ry="0.95" fill="url(#r37)"/><ellipse cx="0.85" cy="0.27" rx="0.4" ry="0.8" fill="url(#q52)" transform="rotate(-14 0.85 0.27)" style="mix-blend-mode:lighten"/><ellipse cx="0.82" cy="0.16" rx="0.47" ry="0.42" fill="url(#q42)" style="mix-blend-mode:lighten"/></g>
<g transform="matrix(25.74 8.19 0 68.75 527.024 199.59)" clip-path="url(#u)"><rect x="-0.02" y="-0.02" width="1.04" height="1.04" fill="url(#l53)"/><ellipse cx="0.1" cy="0.5" rx="0.8" ry="0.75" fill="url(#r3)"/><ellipse cx="-0.02" cy="0.15" rx="0.5" ry="0.65" fill="url(#q42)" style="mix-blend-mode:lighten"/></g>
<g transform="matrix(111 0 0 57.2 252.5 21.4)" clip-path="url(#u)"><rect x="-0.02" y="-0.02" width="1.04" height="1.04" fill="url(#l54)"/><ellipse cx="0.236" cy="1" rx="0.012" ry="1.2" fill="url(#r29)"/><ellipse cx="0.338" cy="1" rx="0.014" ry="1.2" fill="url(#r5)"/><ellipse cx="0.428" cy="1" rx="0.014" ry="1.2" fill="url(#r55)"/><ellipse cx="0.455" cy="1" rx="0.012" ry="1.2" fill="url(#r55)"/><ellipse cx="0.502" cy="1" rx="0.055" ry="1.2" fill="url(#r56)"/><ellipse cx="0.597" cy="1" rx="0.055" ry="1.2" fill="url(#r57)"/><ellipse cx="0.626" cy="1" rx="0.012" ry="1.2" fill="url(#r58)"/><ellipse cx="0.236" cy="1" rx="0.013" ry="0.14" fill="url(#r4)"/><ellipse cx="0.236" cy="1" rx="0.011" ry="0.06" fill="url(#r59)"/><ellipse cx="0.338" cy="1" rx="0.013" ry="0.14" fill="url(#r4)"/><ellipse cx="0.338" cy="1" rx="0.011" ry="0.06" fill="url(#r60)"/><ellipse cx="0.428" cy="1" rx="0.013" ry="0.14" fill="url(#r4)"/><ellipse cx="0.428" cy="1" rx="0.011" ry="0.06" fill="url(#r60)"/><ellipse cx="0.455" cy="1" rx="0.013" ry="0.14" fill="url(#r4)"/><ellipse cx="0.455" cy="1" rx="0.011" ry="0.06" fill="url(#r60)"/><ellipse cx="0.502" cy="1" rx="0.017" ry="0.45" fill="url(#r41)"/><ellipse cx="0.502" cy="1" rx="0.011" ry="0.14" fill="url(#r61)"/><ellipse cx="0.597" cy="1" rx="0.017" ry="0.45" fill="url(#r41)"/><ellipse cx="0.597" cy="1" rx="0.011" ry="0.14" fill="url(#r62)"/><ellipse cx="0.626" cy="1" rx="0.013" ry="0.14" fill="url(#r4)"/><ellipse cx="0.626" cy="1" rx="0.011" ry="0.06" fill="url(#r63)"/></g>
<g transform="matrix(111 0 0 58.6 252.5 107)" clip-path="url(#u)"><rect x="-0.02" y="-0.02" width="1.04" height="1.04" fill="url(#l54)"/><ellipse cx="0.236" cy="0" rx="0.012" ry="1.2" fill="url(#r29)"/><ellipse cx="0.338" cy="0" rx="0.014" ry="1.2" fill="url(#r5)"/><ellipse cx="0.428" cy="0" rx="0.014" ry="1.2" fill="url(#r55)"/><ellipse cx="0.455" cy="0" rx="0.012" ry="1.2" fill="url(#r55)"/><ellipse cx="0.502" cy="0" rx="0.055" ry="1.2" fill="url(#r56)"/><ellipse cx="0.597" cy="0" rx="0.055" ry="1.2" fill="url(#r57)"/><ellipse cx="0.626" cy="0" rx="0.012" ry="1.2" fill="url(#r58)"/><ellipse cx="0.236" cy="0" rx="0.013" ry="0.14" fill="url(#r4)"/><ellipse cx="0.236" cy="0" rx="0.011" ry="0.06" fill="url(#r59)"/><ellipse cx="0.338" cy="0" rx="0.013" ry="0.14" fill="url(#r4)"/><ellipse cx="0.338" cy="0" rx="0.011" ry="0.06" fill="url(#r60)"/><ellipse cx="0.428" cy="0" rx="0.013" ry="0.14" fill="url(#r4)"/><ellipse cx="0.428" cy="0" rx="0.011" ry="0.06" fill="url(#r60)"/><ellipse cx="0.455" cy="0" rx="0.013" ry="0.14" fill="url(#r4)"/><ellipse cx="0.455" cy="0" rx="0.011" ry="0.06" fill="url(#r60)"/><ellipse cx="0.502" cy="0" rx="0.017" ry="0.45" fill="url(#r41)"/><ellipse cx="0.502" cy="0" rx="0.011" ry="0.14" fill="url(#r61)"/><ellipse cx="0.597" cy="0" rx="0.017" ry="0.45" fill="url(#r41)"/><ellipse cx="0.597" cy="0" rx="0.011" ry="0.14" fill="url(#r62)"/><ellipse cx="0.626" cy="0" rx="0.013" ry="0.14" fill="url(#r4)"/><ellipse cx="0.626" cy="0" rx="0.011" ry="0.06" fill="url(#r63)"/></g>
<g transform="matrix(111 0 0 57.5 252.5 186)" clip-path="url(#u)"><rect x="-0.02" y="-0.02" width="1.04" height="1.04" fill="url(#l64)"/><ellipse cx="0" cy="1" rx="0.42" ry="0.5" fill="url(#r65)"/><ellipse cx="1" cy="1" rx="0.36" ry="0.5" fill="url(#r65)"/><ellipse cx="0.52" cy="1" rx="0.16" ry="0.42" fill="url(#r3)"/><ellipse cx="0.378" cy="1" rx="0.011" ry="0.3" fill="url(#r66)"/><ellipse cx="0.423" cy="1" rx="0.011" ry="0.3" fill="url(#r66)"/><ellipse cx="0.468" cy="1" rx="0.011" ry="0.3" fill="url(#r66)"/><ellipse cx="0.507" cy="1" rx="0.011" ry="0.3" fill="url(#r66)"/><ellipse cx="0.552" cy="1" rx="0.011" ry="0.3" fill="url(#r66)"/><ellipse cx="0.631" cy="1" rx="0.011" ry="0.3" fill="url(#r66)"/><ellipse cx="0.378" cy="1" rx="0.007" ry="0.1" fill="url(#r67)"/><ellipse cx="0.378" cy="1" rx="0.006" ry="0.045" fill="url(#r68)"/><ellipse cx="0.423" cy="1" rx="0.007" ry="0.1" fill="url(#r67)"/><ellipse cx="0.423" cy="1" rx="0.006" ry="0.045" fill="url(#r69)"/><ellipse cx="0.468" cy="1" rx="0.007" ry="0.1" fill="url(#r67)"/><ellipse cx="0.468" cy="1" rx="0.006" ry="0.045" fill="url(#r70)"/><ellipse cx="0.507" cy="1" rx="0.007" ry="0.1" fill="url(#r67)"/><ellipse cx="0.507" cy="1" rx="0.006" ry="0.045" fill="url(#r71)"/><ellipse cx="0.552" cy="1" rx="0.007" ry="0.1" fill="url(#r67)"/><ellipse cx="0.552" cy="1" rx="0.006" ry="0.045" fill="url(#r72)"/><ellipse cx="0.631" cy="1" rx="0.007" ry="0.1" fill="url(#r67)"/><ellipse cx="0.631" cy="1" rx="0.006" ry="0.045" fill="url(#r68)"/></g>
<g transform="matrix(111 0 0 56.8 252.5 273.5)" clip-path="url(#u)"><rect x="-0.02" y="-0.02" width="1.04" height="1.04" fill="url(#l64)"/><ellipse cx="0" cy="0" rx="0.42" ry="0.5" fill="url(#r65)"/><ellipse cx="1" cy="0" rx="0.36" ry="0.5" fill="url(#r65)"/><ellipse cx="0.52" cy="0" rx="0.16" ry="0.42" fill="url(#r3)"/><ellipse cx="0.378" cy="0" rx="0.011" ry="0.3" fill="url(#r66)"/><ellipse cx="0.423" cy="0" rx="0.011" ry="0.3" fill="url(#r66)"/><ellipse cx="0.468" cy="0" rx="0.011" ry="0.3" fill="url(#r66)"/><ellipse cx="0.507" cy="0" rx="0.011" ry="0.3" fill="url(#r66)"/><ellipse cx="0.552" cy="0" rx="0.011" ry="0.3" fill="url(#r66)"/><ellipse cx="0.631" cy="0" rx="0.011" ry="0.3" fill="url(#r66)"/><ellipse cx="0.378" cy="0" rx="0.007" ry="0.1" fill="url(#r67)"/><ellipse cx="0.378" cy="0" rx="0.006" ry="0.045" fill="url(#r68)"/><ellipse cx="0.423" cy="0" rx="0.007" ry="0.1" fill="url(#r67)"/><ellipse cx="0.423" cy="0" rx="0.006" ry="0.045" fill="url(#r69)"/><ellipse cx="0.468" cy="0" rx="0.007" ry="0.1" fill="url(#r67)"/><ellipse cx="0.468" cy="0" rx="0.006" ry="0.045" fill="url(#r70)"/><ellipse cx="0.507" cy="0" rx="0.007" ry="0.1" fill="url(#r67)"/><ellipse cx="0.507" cy="0" rx="0.006" ry="0.045" fill="url(#r71)"/><ellipse cx="0.552" cy="0" rx="0.007" ry="0.1" fill="url(#r67)"/><ellipse cx="0.552" cy="0" rx="0.006" ry="0.045" fill="url(#r72)"/><ellipse cx="0.631" cy="0" rx="0.007" ry="0.1" fill="url(#r67)"/><ellipse cx="0.631" cy="0" rx="0.006" ry="0.045" fill="url(#r68)"/></g>
<rect x="369.8" y="21.2" width="9.2" height="144.4" fill="url(#l73)"/>
<rect x="626" y="56.4" width="13.8" height="235" fill="url(#l73)"/>
</g>
<g stroke-linejoin="round" stroke-linecap="butt">
<polyline points="45,64.5 136.25,43.75 185.75,59.5 185.75,150.25 140.764,160.88 140.764,70.53 185.75,59.5" fill="none" stroke="#000" stroke-width="0.7"/>
<polyline points="45,64.5 45,155.25 68.76,163.21 68.76,72.86 45,64.5" fill="none" stroke="#000" stroke-width="0.7"/>
<polyline points="68.76,72.86 115.024,62.34 140.764,70.53 140.764,160.88" fill="none" stroke="#000" stroke-width="0.8"/>
<polyline points="68.76,163.21 115.024,152.69" fill="none" stroke="#000" stroke-width="0.8"/>
<polyline points="115.024,62.34 115.024,152.69" fill="none" stroke="#000" stroke-width="0.9"/>
<polyline points="68.76,72.86 94.5,81.05 140.764,70.53" fill="none" stroke="#000" stroke-width="0.55" stroke-dasharray="1.3 0.7"/>
<polyline points="94.5,81.05 94.5,171.4" fill="none" stroke="#000" stroke-width="0.55" stroke-dasharray="1.3 0.7"/>
<polyline points="68.76,163.21 94.5,171.4 140.764,160.88" fill="none" stroke="#000" stroke-width="0.55" stroke-dasharray="1.3 0.7"/>
<polyline points="45,201.75 136.25,181 185.75,196.75 185.75,288.25 94.5,309.4 45,293.25 45,201.75" fill="none" stroke="#000" stroke-width="0.7"/>
<polyline points="45,201.75 68.76,210.11" fill="none" stroke="#000" stroke-width="0.7"/>
<polyline points="140.764,207.78 185.75,196.75" fill="none" stroke="#000" stroke-width="0.7"/>
<polyline points="68.76,210.11 115.024,199.59 140.764,207.78 140.764,276.53 115.024,268.34 68.76,278.86 68.76,210.11" fill="none" stroke="#000" stroke-width="0.8"/>
<polyline points="115.024,199.59 115.024,268.34" fill="none" stroke="#000" stroke-width="0.9"/>
<polyline points="68.76,278.86 94.5,287.05 140.764,276.53" fill="none" stroke="#000" stroke-width="0.8"/>
<polyline points="94.5,287.05 94.5,309.4" fill="none" stroke="#000" stroke-width="0.8"/>
<polyline points="68.76,210.11 94.5,218.3 140.764,207.78" fill="none" stroke="#000" stroke-width="0.55" stroke-dasharray="1.3 0.7"/>
<polyline points="94.5,218.3 94.5,287.05" fill="none" stroke="#000" stroke-width="0.55" stroke-dasharray="1.3 0.7"/>
<polyline points="457,64.5 548.25,43.75 597.75,59.5 597.75,150.25 552.764,160.88 552.764,70.53 597.75,59.5" fill="none" stroke="#000" stroke-width="0.7"/>
<polyline points="457,64.5 457,155.25 480.76,163.21 480.76,72.86 457,64.5" fill="none" stroke="#000" stroke-width="0.7"/>
<polyline points="480.76,72.86 527.024,62.34 552.764,70.53 552.764,160.88" fill="none" stroke="#000" stroke-width="0.8"/>
<polyline points="480.76,163.21 527.024,152.69" fill="none" stroke="#000" stroke-width="0.8"/>
<polyline points="527.024,62.34 527.024,152.69" fill="none" stroke="#000" stroke-width="0.9"/>
<polyline points="480.76,72.86 506.5,81.05 552.764,70.53" fill="none" stroke="#000" stroke-width="0.55" stroke-dasharray="1.3 0.7"/>
<polyline points="506.5,81.05 506.5,171.4" fill="none" stroke="#000" stroke-width="0.55" stroke-dasharray="1.3 0.7"/>
<polyline points="480.76,163.21 506.5,171.4 552.764,160.88" fill="none" stroke="#000" stroke-width="0.55" stroke-dasharray="1.3 0.7"/>
<polyline points="457,201.75 548.25,181 597.75,196.75 597.75,288.25 506.5,309.4 457,293.25 457,201.75" fill="none" stroke="#000" stroke-width="0.7"/>
<polyline points="457,201.75 480.76,210.11" fill="none" stroke="#000" stroke-width="0.7"/>
<polyline points="552.764,207.78 597.75,196.75" fill="none" stroke="#000" stroke-width="0.7"/>
<polyline points="480.76,210.11 527.024,199.59 552.764,207.78 552.764,276.53 527.024,268.34 480.76,278.86 480.76,210.11" fill="none" stroke="#000" stroke-width="0.8"/>
<polyline points="527.024,199.59 527.024,268.34" fill="none" stroke="#000" stroke-width="0.9"/>
<polyline points="480.76,278.86 506.5,287.05 552.764,276.53" fill="none" stroke="#000" stroke-width="0.8"/>
<polyline points="506.5,287.05 506.5,309.4" fill="none" stroke="#000" stroke-width="0.8"/>
<polyline points="480.76,210.11 506.5,218.3 552.764,207.78" fill="none" stroke="#000" stroke-width="0.55" stroke-dasharray="1.3 0.7"/>
<polyline points="506.5,218.3 506.5,287.05" fill="none" stroke="#000" stroke-width="0.55" stroke-dasharray="1.3 0.7"/>
<path d="M252.75 78.6V107M363.25 78.6V107" stroke="#999" stroke-width="0.9" fill="none"/>
<path d="M252.75 243.5V273.5M363.25 243.5V273.5" stroke="#999" stroke-width="0.9" fill="none"/>
<path d="M32.8 64.5V291.8" stroke="#888" stroke-width="0.9" fill="none"/><path d="M27.5 62.4L32.8 64.7M27.5 107.7L32.8 110M27.5 152.9L32.8 155.2M27.5 199.7L32.8 202M27.5 244.7L32.8 247M27.5 289.5L32.8 291.8" stroke="#555" stroke-width="0.8" fill="none"/><path d="M32.8 291.8L94.4 310.8L197.5 288.4" stroke="#555" stroke-width="1" fill="none" stroke-linejoin="round"/><path d="M41.5 294.483l-4.1 1.8M61.3 300.591l-4.1 1.8M81.1 306.698l-4.1 1.8M101.1 309.344l4.4 1.7M145.8 299.633l4.4 1.7M192.2 289.552l4.4 1.7" stroke="#555" stroke-width="0.8" fill="none"/>
<path d="M444.8 64.5V291.8" stroke="#888" stroke-width="0.9" fill="none"/><path d="M439.5 62.4L444.8 64.7M439.5 107.7L444.8 110M439.5 152.9L444.8 155.2M439.5 199.7L444.8 202M439.5 244.7L444.8 247M439.5 289.5L444.8 291.8" stroke="#555" stroke-width="0.8" fill="none"/><path d="M444.8 291.8L506.4 310.8L609.5 288.4" stroke="#555" stroke-width="1" fill="none" stroke-linejoin="round"/><path d="M453.5 294.483l-4.1 1.8M473.3 300.591l-4.1 1.8M493.1 306.698l-4.1 1.8M513.1 309.344l4.4 1.7M557.8 299.633l4.4 1.7M604.2 289.552l4.4 1.7" stroke="#555" stroke-width="0.8" fill="none"/>
</g>
<g stroke-linecap="round">
<line x1="115.024" y1="152.69" x2="185.5" y2="118.718" stroke="#fff" stroke-width="1.25"/>
<line x1="185.5" y1="118.718" x2="270.6" y2="77.697" stroke="#000" stroke-width="1.2"/>
<line x1="270.6" y1="77.697" x2="312.5" y2="57.5" stroke="#fff" stroke-width="1.25"/>
<circle cx="116.224" cy="152.99" r="2.3" fill="#fff"/>
<line x1="92.5" y1="192" x2="140.764" y2="207.78" stroke="#fff" stroke-width="1.1"/>
<line x1="115.024" y1="199.59" x2="150" y2="184.635" stroke="#fff" stroke-width="1.25"/>
<line x1="150" y1="184.635" x2="252" y2="141.023" stroke="#000" stroke-width="1.2"/>
<line x1="252" y1="141.023" x2="300" y2="120.5" stroke="#fff" stroke-width="1.25"/>
<circle cx="115.024" cy="199.59" r="2.3" fill="#fff"/>
<line x1="527.024" y1="152.69" x2="364.5" y2="200.115" stroke="#000" stroke-width="1.2"/>
<line x1="364.5" y1="200.115" x2="289.5" y2="222" stroke="#fff" stroke-width="1.25"/>
<circle cx="527.024" cy="152.69" r="3.2" fill="#000"/>
<line x1="503.75" y1="192" x2="552.764" y2="207.78" stroke="#fff" stroke-width="1.1"/>
<line x1="527.024" y1="199.59" x2="457" y2="229.048" stroke="#fff" stroke-width="1.25"/>
<line x1="457" y1="229.048" x2="352.5" y2="273.009" stroke="#000" stroke-width="1.2"/>
<line x1="352.5" y1="273.009" x2="292.5" y2="298.25" stroke="#fff" stroke-width="1.25"/>
<circle cx="527.024" cy="199.59" r="2.3" fill="#fff"/>
</g>
<g>
<text transform="translate(105.6 32.9) scale(1 1)" text-anchor="middle" font-size="15.6">Wheel</text>
<text transform="translate(106.2 347.8) scale(1 1)" text-anchor="middle" font-size="15.6">Pinion</text>
<text transform="translate(26.5 69.7) scale(1 1)" text-anchor="end" font-size="15.6">2</text>
<text transform="translate(26.5 115.2) scale(1 1)" text-anchor="end" font-size="15.6">1</text>
<text transform="translate(26.5 160.2) scale(1 1)" text-anchor="end" font-size="15.6">0</text>
<text transform="translate(26.5 207.2) scale(1 1)" text-anchor="end" font-size="15.6">0</text>
<text transform="translate(26.5 252.2) scale(1 1)" text-anchor="end" font-size="15.6">-1</text>
<text transform="translate(26.5 296.8) scale(1 1)" text-anchor="end" font-size="15.6">-2</text>
<text transform="translate(31.5 313.3) scale(1 1)" text-anchor="middle" font-size="15.6">-2</text>
<text transform="translate(54 317.8) scale(1 1)" text-anchor="middle" font-size="15.6">0</text>
<text transform="translate(74 324) scale(1 1)" text-anchor="middle" font-size="15.6">2</text>
<text transform="translate(44 328) scale(1 1)" text-anchor="middle" font-size="15.6">X</text>
<text transform="translate(110 327.8) scale(1 1)" text-anchor="middle" font-size="15.6">1</text>
<text transform="translate(161.5 318.2) scale(1 1)" text-anchor="middle" font-size="15.6">0.5</text>
<text transform="translate(194 306.8) scale(1 1)" text-anchor="middle" font-size="15.6">0</text>
<text transform="translate(174 331.6) scale(1 1)" text-anchor="middle" font-size="15.6">Y</text>
<text transform="translate(12 175.5) rotate(-90) scale(1 1)" text-anchor="middle" font-size="15.6">Z</text>
<text transform="translate(517.6 32.9) scale(1 1)" text-anchor="middle" font-size="15.6">Wheel</text>
<text transform="translate(518.2 347.8) scale(1 1)" text-anchor="middle" font-size="15.6">Pinion</text>
<text transform="translate(438.5 69.7) scale(1 1)" text-anchor="end" font-size="15.6">2</text>
<text transform="translate(438.5 115.2) scale(1 1)" text-anchor="end" font-size="15.6">1</text>
<text transform="translate(438.5 160.2) scale(1 1)" text-anchor="end" font-size="15.6">0</text>
<text transform="translate(438.5 207.2) scale(1 1)" text-anchor="end" font-size="15.6">0</text>
<text transform="translate(438.5 252.2) scale(1 1)" text-anchor="end" font-size="15.6">-1</text>
<text transform="translate(438.5 296.8) scale(1 1)" text-anchor="end" font-size="15.6">-2</text>
<text transform="translate(443.5 313.3) scale(1 1)" text-anchor="middle" font-size="15.6">-2</text>
<text transform="translate(466 317.8) scale(1 1)" text-anchor="middle" font-size="15.6">0</text>
<text transform="translate(486 324) scale(1 1)" text-anchor="middle" font-size="15.6">2</text>
<text transform="translate(456 328) scale(1 1)" text-anchor="middle" font-size="15.6">X</text>
<text transform="translate(522 327.8) scale(1 1)" text-anchor="middle" font-size="15.6">1</text>
<text transform="translate(573.5 318.2) scale(1 1)" text-anchor="middle" font-size="15.6">0.5</text>
<text transform="translate(606 306.8) scale(1 1)" text-anchor="middle" font-size="15.6">0</text>
<text transform="translate(586 331.6) scale(1 1)" text-anchor="middle" font-size="15.6">Y</text>
<text transform="translate(424 175.5) rotate(-90) scale(1 1)" text-anchor="middle" font-size="15.6">Z</text>
<text transform="translate(-1.9 14) scale(1.05 1)" font-size="18.6" font-weight="bold" stroke="#111" stroke-width="0.35">a</text>
<text transform="translate(412 14) scale(1.05 1)" font-size="18.6" font-weight="bold" stroke="#111" stroke-width="0.35">b</text>
<text transform="translate(248.6 29) scale(1 1)" text-anchor="end" font-size="15.6">0.2</text>
<text transform="translate(248.6 83.3) scale(1 1)" text-anchor="end" font-size="15.6">0</text>
<text transform="translate(248.6 112.5) scale(1 1)" text-anchor="end" font-size="15.6">0</text>
<text transform="translate(248.6 169.8) scale(1 1)" text-anchor="end" font-size="15.6">-0.2</text>
<text transform="translate(248.6 194.7) scale(1 1)" text-anchor="end" font-size="15.6">0.2</text>
<text transform="translate(248.6 249.5) scale(1 1)" text-anchor="end" font-size="15.6">0</text>
<text transform="translate(248.6 278) scale(1 1)" text-anchor="end" font-size="15.6">0</text>
<text transform="translate(248.6 335.8) scale(1 1)" text-anchor="end" font-size="15.6">-0.2</text>
<text transform="translate(250.2 347.6) scale(1 1)" text-anchor="middle" font-size="15.6">-1</text>
<text transform="translate(278.3 347.6) scale(1 1)" text-anchor="middle" font-size="15.6">-0.5</text>
<text transform="translate(306.5 347.6) scale(1 1)" text-anchor="middle" font-size="15.6">0</text>
<text transform="translate(334.6 347.6) scale(1 1)" text-anchor="middle" font-size="15.6">0.5</text>
<text transform="translate(362.7 347.6) scale(1 1)" text-anchor="middle" font-size="15.6">1</text>
<text transform="translate(306.6 364.7) scale(1 1)" text-anchor="middle" font-size="15.6">X</text>
<text transform="translate(224.5 257) rotate(-90) scale(1 1)" text-anchor="middle" font-size="15.6">Z</text>
<text transform="translate(381.5 170.4) scale(1 1)" text-anchor="start" font-size="15.6">0</text>
<text transform="translate(381.5 142.8) scale(1 1)" text-anchor="start" font-size="15.6">1</text>
<text transform="translate(381.5 115.2) scale(1 1)" text-anchor="start" font-size="15.6">2</text>
<text transform="translate(381.5 87.6) scale(1 1)" text-anchor="start" font-size="15.6">3</text>
<text transform="translate(381.5 60) scale(1 1)" text-anchor="start" font-size="15.6">4</text>
<text transform="translate(381.5 32.4) scale(1 1)" text-anchor="start" font-size="15.6">5</text>
<text transform="translate(405.4 117.8) rotate(-90) scale(1 1)" text-anchor="middle" font-size="15.6">σ<tspan font-size="10.3" dy="2.8">SV</tspan><tspan dy="-2.8"> in GPa</tspan></text>
<text transform="translate(641.8 297.1) scale(1 1)" text-anchor="start" font-size="15.6">0</text>
<text transform="translate(641.8 269.9) scale(1 1)" text-anchor="start" font-size="15.6">0.1</text>
<text transform="translate(641.8 242.5) scale(1 1)" text-anchor="start" font-size="15.6">0.2</text>
<text transform="translate(641.8 214.8) scale(1 1)" text-anchor="start" font-size="15.6">0.3</text>
<text transform="translate(641.8 186.75) scale(1 1)" text-anchor="start" font-size="15.6">0.4</text>
<text transform="translate(641.8 155.5) scale(1 1)" text-anchor="start" font-size="15.6">0.5</text>
<text transform="translate(641.8 123.8) scale(1 1)" text-anchor="start" font-size="15.6">0.6</text>
<text transform="translate(641.8 93.6) scale(1 1)" text-anchor="start" font-size="15.6">0.7</text>
<text transform="translate(641.8 62.75) scale(1 1)" text-anchor="start" font-size="15.6">0.8</text>
<text transform="translate(679.7 214.5) rotate(-90) scale(1 1)" text-anchor="middle" font-size="15.6">σ<tspan font-size="10.3" dy="2.8">DV</tspan><tspan dy="-2.8"> in GPa</tspan></text>
</g>
</svg>
</body></html>
